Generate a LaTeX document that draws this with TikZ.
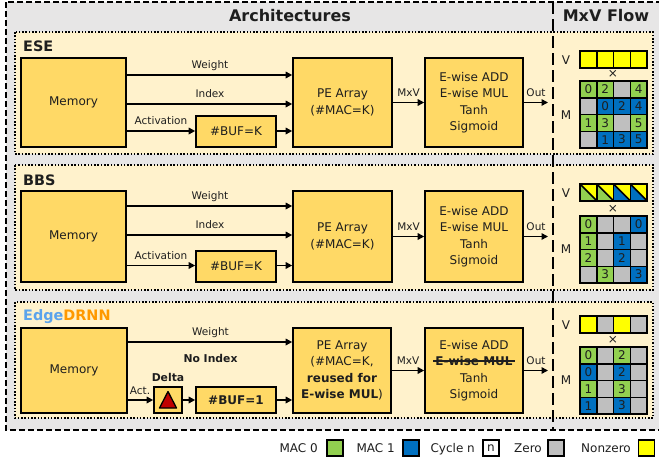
\documentclass[tikz,border=0pt]{standalone}
\usepackage{fontspec}
\setmainfont{DejaVu Sans}
\usetikzlibrary{arrows.meta}
\definecolor{bgGray}{HTML}{E7E6E6}
\definecolor{panelY}{HTML}{FFF2CC}
\definecolor{boxY}{HTML}{FFD966}
\definecolor{macG}{HTML}{92D050}
\definecolor{macB}{HTML}{0070C0}
\definecolor{zeroG}{HTML}{BFBFBF}
\definecolor{nzY}{HTML}{FFFF00}
\definecolor{edgeBlue}{HTML}{5BA3EC}
\definecolor{drnnOr}{HTML}{FF9900}
\definecolor{deltaRed}{HTML}{C00000}
\definecolor{txt}{HTML}{1E1E1E}
\newcommand\mystrike[1]{\setbox0=\hbox{#1}\hbox to \wd0{\rlap{\copy0}\kern-2pt\rule[0.3em]{\dimexpr\wd0+4pt\relax}{1.5pt}\hss}}
\newcommand\bx[7][]{\node[blk,minimum width={(#5-#3)*1pt},minimum height={(#6-#4)*1pt},#1] (#2) at ({(#3+#5)/2},{(#4+#6)/2}) {#7};}
\newcommand\mrow[4]{\foreach \cl/\tx [count=\j] in {#4} \node[mc,fill=\cl] (#1-\j) at ({580+(\j-0.5)*16.75},{#2+(#3-0.5)*16.75}) {\tx};}
\begin{document}
\begin{tikzpicture}[x=1pt,y=-1pt,
  blk/.style={draw=black,line width=1.6pt,fill=boxY,align=center,inner sep=0pt,text=txt,font=\fontsize{12}{16.5}\selectfont},
  lab/.style={font=\fontsize{10.5}{12}\selectfont,inner sep=0pt,anchor=base,text=txt},
  blab/.style={font=\bfseries\fontsize{10.8}{12}\selectfont,inner sep=0pt,anchor=base,text=txt},
  ttl/.style={font=\bfseries\fontsize{14.4}{16}\selectfont,inner sep=0pt,anchor=base west,text=txt},
  hdr/.style={font=\bfseries\fontsize{16}{18}\selectfont,inner sep=0pt,anchor=base,text=txt},
  arr/.style={line width=1.6pt,-{Triangle[length=6.5pt,width=6.5pt]}},
  pnl/.style={fill=panelY,line width=1.5pt,dash pattern=on 1.5pt off 1.8pt},
  mc/.style={draw=black,line width=1.5pt,minimum width=16.75pt,minimum height=16.75pt,inner sep=0pt,outer sep=0pt,text=txt,font=\fontsize{12}{12}\selectfont},
  vl/.style={font=\fontsize{12}{12}\selectfont,inner sep=0pt,text=txt},
  lg/.style={draw=black,line width=1.6pt,minimum width=16pt,minimum height=16pt,inner sep=0pt,text=txt,font=\fontsize{12}{12}\selectfont},
  lgt/.style={font=\fontsize{12}{12}\selectfont,inner sep=0pt,anchor=base east,text=txt}]
\useasboundingbox (0,0) rectangle (659,458);
% outer frame
\draw[fill=bgGray,line width=1.8pt,dash pattern=on 6pt off 3pt] (6,2) rectangle (662,430);
\node[hdr] (hArch) at (290,21) {Architectures};
\node[hdr] (hMxV) at (606,21) {MxV Flow};
% panels
\draw[pnl] (15,32) rectangle (653,154);
\draw[pnl] (15,165) rectangle (653,290);
\draw[pnl] (15,302) rectangle (653,418);
% divider
\draw[line width=1.8pt,dash pattern=on 12pt off 5pt] (553,2) -- (553,430);

% ===== ESE =====
\node[ttl] (tE) at (23,51) {ESE};
\bx{memE}{21}{58}{126}{147}{Memory}
\bx{peE}{293}{58}{392}{147}{PE Array\\(\#MAC=K)}
\bx{ewE}{425}{58}{523}{147}{E-wise ADD\\E-wise MUL\\Tanh\\Sigmoid}
\bx{bufE}{196}{116}{276}{147}{\#BUF=K}
\coordinate (wE) at (0,75);
\coordinate (iE) at (0,104);
\coordinate (aE) at (0,131);
\coordinate (oE) at (548,102.5);
\draw[arr] (memE.east |- wE) -- (peE.west |- wE);
\draw[arr] (memE.east |- iE) -- (peE.west |- iE);
\draw[arr] (memE.east |- aE) -- (bufE.west |- aE);
\draw[arr] (bufE.east |- aE) -- (peE.west |- aE);
\draw[arr] (peE) -- (ewE);
\draw[arr] (ewE) -- (oE);
\node[lab] (lwE) at (210,68.5) {Weight};
\node[lab] (liE) at (210,97.5) {Index};
\node[lab] (laE) at (161,124.5) {Activation};
\node[lab] (lmE) at (408.5,96) {MxV};
\node[lab] (loE) at (536,96) {Out};

% ===== BBS =====
\node[ttl] (tB) at (23,185) {BBS};
\bx{memB}{21}{191}{126}{282}{Memory}
\bx{peB}{293}{191}{392}{282}{PE Array\\(\#MAC=K)}
\bx{ewB}{425}{191}{523}{282}{E-wise ADD\\E-wise MUL\\Tanh\\Sigmoid}
\bx{bufB}{196}{251}{276}{282}{\#BUF=K}
\coordinate (wB) at (0,206);
\coordinate (iB) at (0,235);
\coordinate (aB) at (0,265.5);
\coordinate (oB) at (548,236.5);
\draw[arr] (memB.east |- wB) -- (peB.west |- wB);
\draw[arr] (memB.east |- iB) -- (peB.west |- iB);
\draw[arr] (memB.east |- aB) -- (bufB.west |- aB);
\draw[arr] (bufB.east |- aB) -- (peB.west |- aB);
\draw[arr] (peB) -- (ewB);
\draw[arr] (ewB) -- (oB);
\node[lab] (lwB) at (210,199.5) {Weight};
\node[lab] (liB) at (210,228.5) {Index};
\node[lab] (laB) at (161,259) {Activation};
\node[lab] (lmB) at (408.5,230) {MxV};
\node[lab] (loB) at (536,230) {Out};

% ===== EdgeDRNN =====
\node[ttl] (tD) at (23,320) {\textcolor{edgeBlue}{Edge}\textcolor{drnnOr}{DRNN}};
\bx{memD}{21}{328}{127}{413}{Memory}
\bx{peD}{293}{328}{391}{413}{PE Array\\(\#MAC=K,\\\textbf{reused for}\\\textbf{E-wise MUL})}
\bx{ewD}{425}{328}{523}{413}{E-wise ADD\\\mystrike{\textbf{E-wise MUL}}\\Tanh\\Sigmoid}
\bx{dlD}{154}{387}{182}{413}{}
\bx[font=\bfseries\fontsize{12}{14}\selectfont]{bufD}{196}{387}{276}{413}{\#BUF=1}
\draw[fill=deltaRed,line width=1.3pt,line join=round] (168,391.5) -- (176.5,408) -- (159.5,408) -- cycle;
\coordinate (wD) at (0,342);
\coordinate (aD) at (0,400);
\coordinate (oD) at (548,370.5);
\draw[arr] (memD.east |- wD) -- (peD.west |- wD);
\draw[arr] (memD.east |- aD) -- (dlD.west |- aD);
\draw[arr] (dlD.east |- aD) -- (bufD.west |- aD);
\draw[arr] (bufD.east |- aD) -- (peD.west |- aD);
\draw[arr] (peD) -- (ewD);
\draw[arr] (ewD) -- (oD);
\node[lab] (lwD) at (210.5,335.5) {Weight};
\node[blab] (lnD) at (210.5,362) {No Index};
\node[blab] (ldD) at (168,381) {Delta};
\node[lab] (laD) at (140,394) {Act.};
\node[lab] (lmD) at (408,364) {MxV};
\node[lab] (loD) at (536,364) {Out};

% ===== MxV flow: ESE =====
\node[vl] (vlE) at (566,60) {V};
\node[vl] (mlE) at (566,115) {M};
\node[vl] (xE) at (613,73.5) {×};
\mrow{vE}{51}{1}{nzY/{},nzY/{},nzY/{},nzY/{}}
\draw[line width=1.9pt] (vE-1.north west) rectangle (vE-4.south east);
\mrow{mE-1}{81}{1}{macG/0,macG/2,zeroG/{},macG/4}
\mrow{mE-2}{81}{2}{zeroG/{},macB/0,macB/2,macB/4}
\mrow{mE-3}{81}{3}{macG/1,macG/3,zeroG/{},macG/5}
\mrow{mE-4}{81}{4}{zeroG/{},macB/1,macB/3,macB/5}
\draw[line width=1.9pt] (mE-1-1.north west) rectangle (mE-4-4.south east);

% ===== MxV flow: BBS =====
\node[vl] (vlB) at (566,193) {V};
\node[vl] (mlB) at (566,249.5) {M};
\node[vl] (xB) at (613,209) {×};
\mrow{vB}{184}{1}{nzY/{},nzY/{},nzY/{},nzY/{}}
\foreach \j/\cl in {1/macG,2/macG,3/macB,4/macB}{
  \fill[\cl] (vB-\j.north west) -- (vB-\j.south west) -- (vB-\j.south east) -- cycle;
  \draw[line width=1.5pt] (vB-\j.north west) -- (vB-\j.south east);
  \draw[line width=1.5pt] (vB-\j.north west) rectangle (vB-\j.south east);
}
\draw[line width=1.9pt] (vB-1.north west) rectangle (vB-4.south east);
\mrow{mB-1}{216}{1}{macG/0,zeroG/{},zeroG/{},macB/0}
\mrow{mB-2}{216}{2}{macG/1,zeroG/{},macB/1,zeroG/{}}
\mrow{mB-3}{216}{3}{macG/2,zeroG/{},macB/2,zeroG/{}}
\mrow{mB-4}{216}{4}{zeroG/{},macG/3,zeroG/{},macB/3}
\draw[line width=1.9pt] (mB-1-1.north west) rectangle (mB-4-4.south east);

% ===== MxV flow: EdgeDRNN =====
\node[vl] (vlD) at (566,325) {V};
\node[vl] (mlD) at (566,380) {M};
\node[vl] (xD) at (613,340) {×};
\mrow{vD}{316}{1}{nzY/{},zeroG/{},nzY/{},zeroG/{}}
\draw[line width=1.9pt] (vD-1.north west) rectangle (vD-4.south east);
\mrow{mD-1}{347}{1}{macG/0,zeroG/{},macG/2,zeroG/{}}
\mrow{mD-2}{347}{2}{macB/0,zeroG/{},macB/2,zeroG/{}}
\mrow{mD-3}{347}{3}{macG/1,zeroG/{},macG/3,zeroG/{}}
\mrow{mD-4}{347}{4}{macB/1,zeroG/{},macB/3,zeroG/{}}
\draw[line width=1.9pt] (mD-1-1.north west) rectangle (mD-4-4.south east);

% ===== legend =====
\node[lg,fill=macG] (lg0) at (335,448) {};
\node[lg,fill=macB] (lg1) at (411,448) {};
\node[lg,fill=white] (lgc) at (491,448) {n};
\node[lg,fill=zeroG] (lgz) at (556,448) {};
\node[lg,fill=nzY] (lgn) at (646.5,448) {};
\node[lgt] (lt0) at (318,452) {MAC 0};
\node[lgt] (lt1) at (395,452) {MAC 1};
\node[lgt] (ltc) at (475,452) {Cycle n};
\node[lgt] (ltz) at (542,452) {Zero};
\node[lgt] (ltn) at (631,452) {Nonzero};
\end{tikzpicture}
\end{document}
